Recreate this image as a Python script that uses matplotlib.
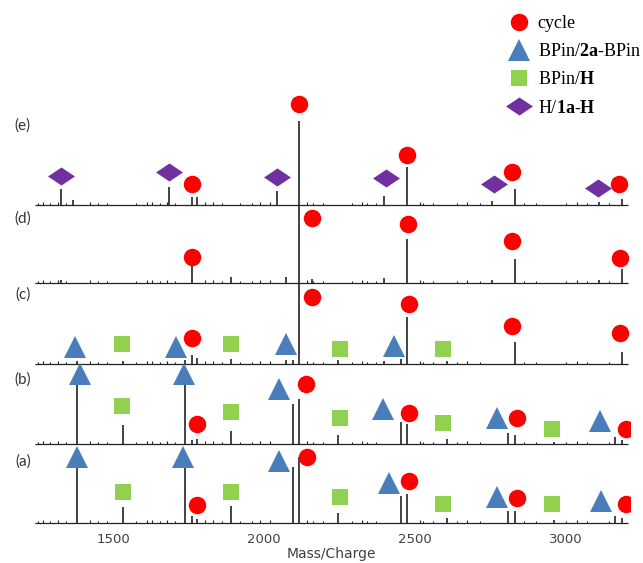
import matplotlib.pyplot as plt
import numpy as np
from matplotlib.path import Path
from matplotlib.lines import Line2D

plt.rcParams['mathtext.fontset'] = 'custom'
plt.rcParams['mathtext.rm'] = 'Liberation Serif'
plt.rcParams['mathtext.bf'] = 'Liberation Serif:bold'

# traces from bottom (a) to top (e)
panel_names = ['(a)', '(b)', '(c)', '(d)', '(e)']

# small background peaks seen in all traces
minor_mz = [1252, 1268, 1290, 1318, 1345, 1424, 1450, 1480, 1575, 1613, 1629, 1655,
            1679, 1705, 1805, 1831, 1860, 1920, 1960, 1987, 2020, 2142, 2162, 2195,
            2290, 2324, 2341, 2370, 2516, 2526, 2560, 2640, 2672, 2715, 2860, 2900,
            3000, 3036, 3070, 3140]
minor_h = [2, 3, 2, 3, 2, 3, 2, 2, 2, 3, 3, 2, 3, 2, 3, 3, 2, 2, 2, 3, 3, 3, 2, 2,
           2, 3, 2, 2, 3, 2, 2, 2, 3, 2, 2, 2, 2, 3, 2, 2]

# main peaks of each trace
a_mz = [1381, 1533, 1738, 1761, 1778, 1891, 2096, 2117, 2245, 2453, 2473, 2604, 2807, 2830, 2958, 3163, 3185]
a_h = [58, 16, 58, 7, 4, 17, 56, 66, 10, 27, 29, 5, 12, 12, 3, 7, 5]
b_mz = [1381, 1533, 1738, 1761, 1778, 1891, 2096, 2117, 2245, 2453, 2473, 2604, 2807, 2830, 2958, 3163, 3185]
b_h = [65, 19, 62, 4, 5, 13, 40, 45, 9, 22, 20, 5, 11, 9, 2, 7, 4]
c_mz = [1381, 1533, 1738, 1761, 1778, 1891, 2073, 2096, 2117, 2245, 2398, 2453, 2473, 2604, 2830, 3185]
c_h = [3, 3, 4, 9, 6, 5, 4, 4, 80, 4, 3, 5, 47, 3, 22, 12]
d_mz = [1328, 1761, 1891, 2073, 2117, 2160, 2398, 2473, 2754, 2830, 3110, 3185]
d_h = [3, 18, 6, 6, 78, 4, 5, 44, 3, 24, 3, 14]
e_mz = [1328, 1368, 1685, 1761, 1778, 2043, 2117, 2398, 2473, 2754, 2830, 3110, 3185]
e_h = [16, 5, 18, 8, 8, 14, 84, 9, 38, 4, 16, 3, 6]

# peak assignments: marker m/z and height above the trace
cycle_a_mz = [1778, 2142, 2480, 2837, 3198]
cycle_a_h = [18, 66, 42, 25, 19]
tri_a_mz = [1381, 1732, 2049, 2414, 2771, 3115]
tri_a_h = [66, 66, 62, 40, 26, 22]
sq_a_mz = [1533, 1891, 2251, 2592, 2953]
sq_a_h = [31, 31, 26, 19, 19]

cycle_b_mz = [1778, 2139, 2480, 2837, 3198]
cycle_b_h = [20, 60, 31, 26, 15]
tri_b_mz = [1391, 1735, 2049, 2394, 2771, 3112]
tri_b_h = [70, 70, 55, 35, 26, 23]
sq_b_mz = [1530, 1891, 2251, 2592, 2953]
sq_b_h = [38, 32, 26, 21, 15]

cycle_c_mz = [1761, 2159, 2480, 2821, 3178]
cycle_c_h = [26, 67, 60, 38, 31]
tri_c_mz = [1374, 1709, 2073, 2430]
tri_c_h = [17, 17, 20, 18]
sq_c_mz = [1530, 1891, 2251, 2592]
sq_c_h = [20, 20, 15, 15]

cycle_d_mz = [1761, 2159, 2476, 2821, 3178]
cycle_d_h = [26, 65, 59, 42, 25]

dia_e_mz = [1328, 1685, 2043, 2404, 2761, 3105]
dia_e_h = [29, 33, 28, 27, 21, 17]
cycle_e_mz = [1761, 2116, 2473, 2821, 3175]
cycle_e_h = [21, 101, 50, 33, 21]

legend_labels = ['cycle', r'BPin/$\mathbf{2a}$-BPin', r'BPin/$\mathbf{H}$', r'H/$\mathbf{1a}$-$\mathbf{H}$']

red = '#ff0000'
blue = '#4a7ebb'
green = '#92d050'
purple = '#7030a0'

diamond = Path([(-1, 0), (0, 0.67), (1, 0), (0, -0.67), (-1, 0)],
               [Path.MOVETO, Path.LINETO, Path.LINETO, Path.LINETO, Path.CLOSEPOLY])
styles = {
    'o': dict(marker='o', color=red, ms=12.6),
    '^': dict(marker='^', color=blue, ms=15.5),
    's': dict(marker='s', color=green, ms=12.2),
    'd': dict(marker=diamond, color=purple, ms=19.4),
}

fig = plt.figure(figsize=(6.43, 5.63), dpi=100)
ax = fig.add_axes([33 / 643, 36 / 563, 597 / 643, 436 / 563])
ax.set_xlim(1235, 3211)
ax.set_ylim(0, 436)

baselines = [4, 83, 163, 244, 322]
label_dy = [61, 64, 69, 64, 79]
traces = [(a_mz, a_h), (b_mz, b_h), (c_mz, c_h), (d_mz, d_h), (e_mz, e_h)]
marks = [
    [('^', tri_a_mz, tri_a_h), ('s', sq_a_mz, sq_a_h), ('o', cycle_a_mz, cycle_a_h)],
    [('^', tri_b_mz, tri_b_h), ('s', sq_b_mz, sq_b_h), ('o', cycle_b_mz, cycle_b_h)],
    [('^', tri_c_mz, tri_c_h), ('s', sq_c_mz, sq_c_h), ('o', cycle_c_mz, cycle_c_h)],
    [('o', cycle_d_mz, cycle_d_h)],
    [('d', dia_e_mz, dia_e_h), ('o', cycle_e_mz, cycle_e_h)],
]

for i, base in enumerate(baselines):
    mz, h = traces[i]
    ax.hlines(base, 1240, 3205, color='#222222', lw=0.9, zorder=2)
    ax.vlines(minor_mz, base, base + np.array(minor_h), color='#222222', lw=0.8, zorder=2)
    ax.vlines(mz, base, base + np.array(h), color='#111111', lw=1.1, zorder=2)
    for key, mmz, mh in marks[i]:
        st = styles[key]
        ax.plot(mmz, base + np.array(mh), ls='none', marker=st['marker'], ms=st['ms'],
                color=st['color'], mew=0, zorder=3)
    ax.text(-0.017, base + label_dy[i], panel_names[i], transform=ax.get_yaxis_transform(),
            ha='center', va='center', fontsize=11, family='Lato', color='#333333')

for sp in ax.spines.values():
    sp.set_visible(False)
ax.set_yticks([])
ax.set_xticks([1500, 2000, 2500, 3000])
ax.tick_params(axis='x', length=0, pad=4, labelsize=9.5, labelcolor='#404040')
ax.set_xlabel('Mass/Charge', fontsize=10, color='#404040', labelpad=1)

handles = [Line2D([], [], ls='none', marker=styles[k]['marker'], ms=styles[k]['ms'],
                  color=styles[k]['color'], mew=0) for k in ['o', '^', 's', 'd']]
fig.legend(handles, legend_labels, loc='upper left', bbox_to_anchor=(508 / 643, 1 - 15 / 563),
           frameon=False, borderpad=0, borderaxespad=0, handlelength=1.2, handletextpad=0.45,
           labelspacing=0.62, prop={'family': 'Liberation Serif', 'size': 13})

fig.savefig('out.png', dpi=100)
